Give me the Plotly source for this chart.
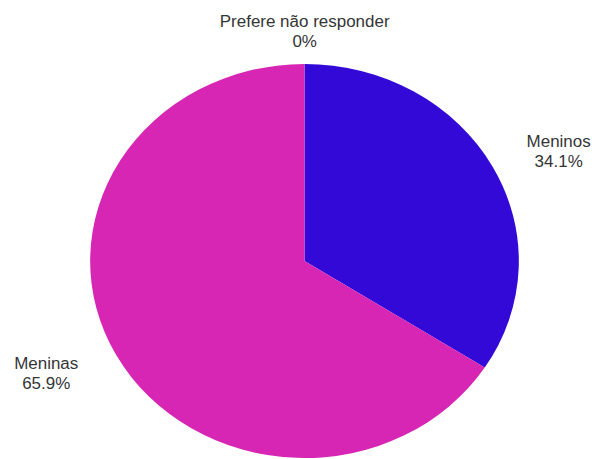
import plotly.graph_objects as go

# Survey answers by gender
categories = ["Meninos", "Meninas", "Prefere não responder"]
shares = [34.1, 65.9, 0]
slice_colors = ["#3309d8", "#d626b3", "#ff9900"]

# The chart is drawn at a narrower width and then stretched horizontally
STRETCH = 1.088
PAGE_W, PAGE_H = 592, 459
W = round(PAGE_W / STRETCH)
H = PAGE_H

cx, cy, r = 304.5 / STRETCH, 261, 197  # pie centre (x unscaled, y from top) and radius

fig = go.Figure(
    go.Pie(
        labels=categories,
        values=shares,
        sort=False,
        direction="clockwise",
        rotation=0,
        marker=dict(colors=slice_colors, line=dict(width=0)),
        textinfo="none",
        hoverinfo="label+percent",
        showlegend=False,
        domain=dict(
            x=[(cx - r) / W, (cx + r) / W],
            y=[max(0, (H - cy - r) / H), (H - cy + r) / H],
        ),
    )
)

# Outside labels: name on the first line, share on the second
label_pos = {
    "Meninos": (559 / STRETCH, 151),
    "Meninas": (46 / STRETCH, 373),
    "Prefere não responder": (305 / STRETCH, 31),
}


def fmt(v):
    return f"{v:g}%"


for name, val in zip(categories, shares):
    px, py = label_pos[name]
    fig.add_annotation(
        x=px / W,
        y=(H - py) / H,
        xref="paper",
        yref="paper",
        xanchor="center",
        yanchor="middle",
        text=f"{name}<br>{fmt(val)}",
        showarrow=False,
        align="center",
        font=dict(family="Liberation Sans, Arial, sans-serif", size=15.6, color="#353535"),
    )

fig.update_layout(
    width=W,
    height=H,
    margin=dict(l=0, r=0, t=0, b=0),
    paper_bgcolor="white",
    plot_bgcolor="white",
)

stretch_js = (
    "var gd = document.getElementById('{plot_id}');"
    "gd.style.transformOrigin = '0 0';"
    f"gd.style.transform = 'scaleX({STRETCH})';"
)

fig.write_html("out.html", config={"displayModeBar": False, "responsive": False},
               post_script=stretch_js)
